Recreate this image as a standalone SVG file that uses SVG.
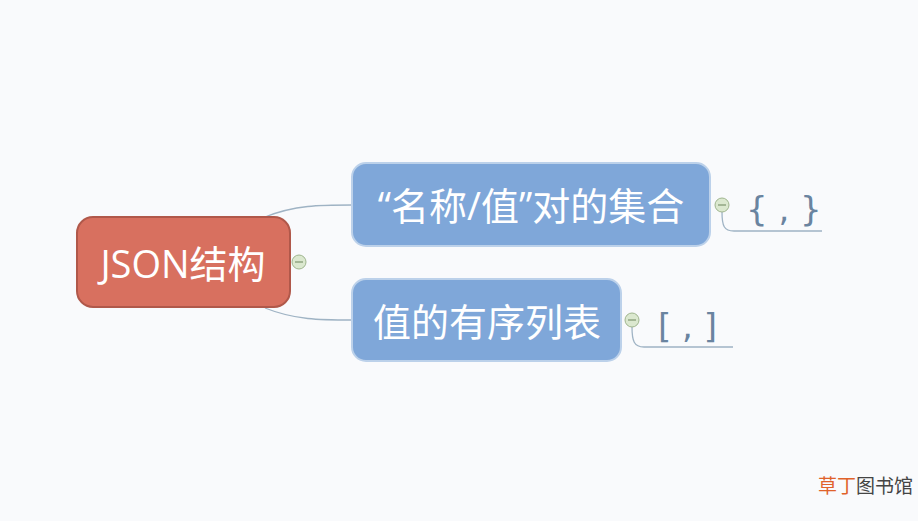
<svg xmlns="http://www.w3.org/2000/svg" width="918" height="521" viewBox="0 0 918 521">
<defs>
<style>
.cjk{font-family:"Open Sans","Noto Sans CJK SC",sans-serif;}
.nt{fill:#ffffff;text-anchor:middle;}
.conn{fill:none;stroke:#9fb3c4;stroke-width:1.3;}
.ul{fill:none;stroke:#9fb3c4;stroke-width:1.3;}
.tog{fill:#dbe8cf;stroke:#9fb58e;stroke-width:1;}
.togl{stroke:#7d946e;stroke-width:1.2;}
.sub{fill:#6a84a0;font-family:"DejaVu Sans",sans-serif;font-size:34px;}
.blue{fill:#7fa7d9;stroke:#bcd1ea;stroke-width:2;}
</style>
<linearGradient id="tg" x1="0" y1="0" x2="0" y2="1">
<stop offset="0" stop-color="#f1f6ea"/>
<stop offset="1" stop-color="#c9dbb8"/>
</linearGradient>
</defs>
<rect width="918" height="521" fill="#f9fafc"/>
<g id="connectors">
<path class="conn" d="M265,217 C295,205 320,205 352,205"/>
<path class="conn" d="M265,308 C295,320 320,320 352,320"/>
<path class="ul" d="M722,212 C722,226 724,231 734,231 L822,231"/>
<path class="ul" d="M632,327 C632,341 634,347 644,347 L733,347"/>
</g>
<g id="root">
<rect x="77" y="217" width="213" height="90" rx="16" fill="#d8705f" stroke="#b0584a" stroke-width="2"/>
<text class="cjk nt" x="183" y="278" font-size="38">JSON结构</text>
<circle class="tog" cx="299" cy="262" r="7" fill="url(#tg)"/>
<line class="togl" x1="295" y1="262" x2="303" y2="262"/>
</g>
<g id="node1">
<rect class="blue" x="352" y="163" width="358" height="83" rx="14"/>
<text class="cjk nt" x="531" y="220" font-size="38">“名称/值”对的集合</text>
<circle class="tog" cx="722" cy="205" r="7" fill="url(#tg)"/>
<line class="togl" x1="718" y1="205" x2="726" y2="205"/>
</g>
<g id="node1sub">
<text class="sub" x="746" y="221">{ , }</text>
</g>
<g id="node2">
<rect class="blue" x="352" y="279" width="269" height="82" rx="14"/>
<text class="cjk nt" x="487" y="336" font-size="38">值的有序列表</text>
<circle class="tog" cx="632" cy="320" r="7" fill="url(#tg)"/>
<line class="togl" x1="628" y1="320" x2="636" y2="320"/>
</g>
<g id="node2sub">
<text class="sub" x="658" y="338">[ , ]</text>
</g>
<g id="watermark">
<text class="cjk" x="818" y="493" font-size="19"><tspan fill="#e0622a">草丁</tspan><tspan fill="#444444">图书馆</tspan></text>
</g>
</svg>
